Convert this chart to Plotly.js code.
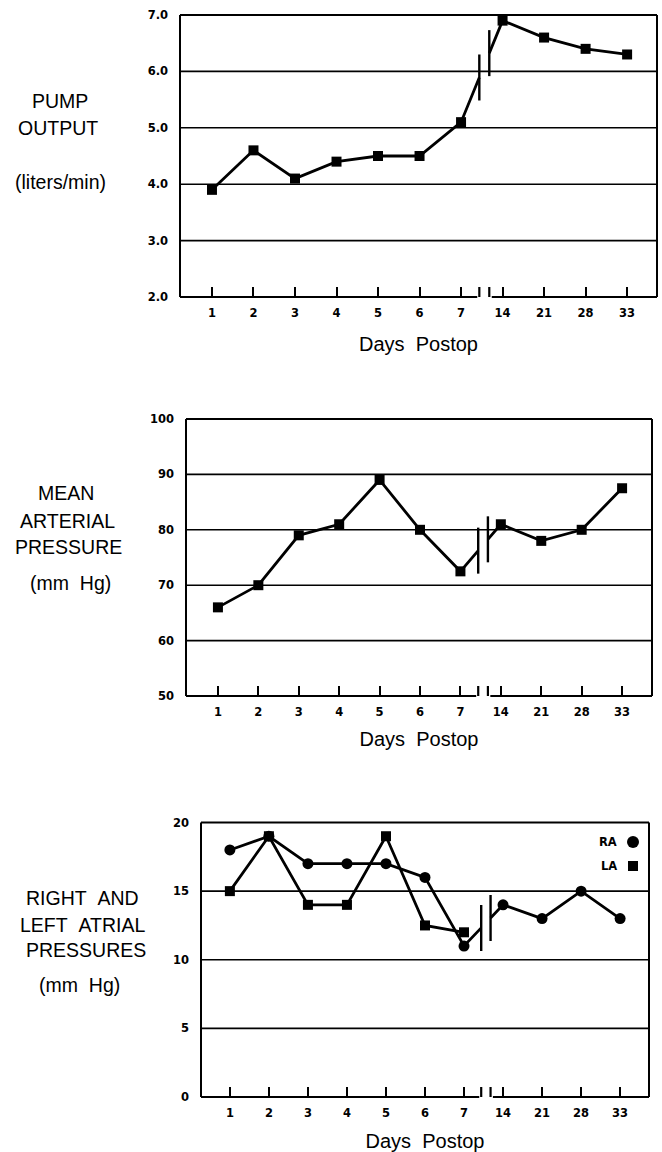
<!DOCTYPE html>
<html>
<head>
<meta charset="utf-8">
<script src="https://cdn.plot.ly/plotly-3.0.1.min.js"></script>
<style>html,body{margin:0;padding:0;background:#fff;}#chart{width:662px;height:1152px;}</style>
</head>
<body>
<div id="chart"></div>
<script>
// ---- data ----
const days = ['1','2','3','4','5','6','7','14','21','28','33'];
const pumpOutput = [3.9, 4.6, 4.1, 4.4, 4.5, 4.5, 5.1, 6.9, 6.6, 6.4, 6.3];
const meanArterial = [66, 70, 79, 81, 89, 80, 72.5, 81, 78, 80, 87.5];
const rightAtrial = [18, 19, 17, 17, 17, 16, 11, 14, 13, 15, 13];
const leftAtrial = [15, 19, 14, 14, 19, 12.5, 12, null, null, null, null];
const pumpTicks = [2, 3, 4, 5, 6, 7];
const arterialTicks = [50, 60, 70, 80, 90, 100];
const atrialTicks = [0, 5, 10, 15, 20];
const xTitle = 'Days&nbsp;&nbsp;Postop';

// ---- layout helpers ----
const W = 662, H = 1152;
const breakA = 6.44, breakB = 6.68; // axis break between day 7 and day 14
const tickFont = {family: 'DejaVu Sans', size: 11.5, color: '#000', weight: 'bold'};
const titleFont = {family: 'Liberation Sans, Arial, sans-serif', size: 19.5, color: '#000'};

const traces = [], shapes = [], annotations = [];
const layout = {
  width: W, height: H, margin: {l: 0, r: 0, t: 0, b: 0},
  paper_bgcolor: '#fff', plot_bgcolor: '#fff', showlegend: false,
  shapes: shapes, annotations: annotations
};

function px(x) { return x / W; }
function py(y) { return 1 - y / H; }

function panel(n, box, xr, yTicks, yFmt, series, titleLines, xStandoff) {
  const xa = 'xaxis' + (n === 1 ? '' : n), ya = 'yaxis' + (n === 1 ? '' : n);
  const xs = 'x' + (n === 1 ? '' : n), ys = 'y' + (n === 1 ? '' : n);
  const yMin = yTicks[0], yMax = yTicks[yTicks.length - 1];
  layout[xa] = {
    domain: [px(box.l), px(box.r)], range: xr, anchor: ys,
    tickmode: 'array', tickvals: days.map((d, i) => i), ticktext: days,
    ticks: 'inside', ticklen: 10, tickwidth: 2, tickcolor: '#000',
    showline: false, showgrid: false, zeroline: false,
    tickfont: tickFont, ticklabelstandoff: 7,
    title: {text: xTitle, font: {family: 'Liberation Sans, Arial, sans-serif', size: 20, color: '#000'}, standoff: xStandoff},
    fixedrange: true
  };
  layout[ya] = {
    domain: [py(box.b), py(box.t)], range: [yMin, yMax], anchor: xs,
    tickmode: 'array', tickvals: yTicks, ticktext: yTicks.map(v => yFmt(v)),
    ticks: '', showline: false, showgrid: false, zeroline: false,
    tickfont: tickFont, ticklabelstandoff: 11, fixedrange: true
  };
  const ln = {color: '#000', width: 2};
  // frame: left, right, top
  shapes.push({type: 'line', xref: xs + ' domain', yref: ys + ' domain', x0: 0, x1: 0, y0: 0, y1: 1, line: ln});
  shapes.push({type: 'line', xref: xs + ' domain', yref: ys + ' domain', x0: 1, x1: 1, y0: 0, y1: 1, line: ln});
  shapes.push({type: 'line', xref: xs + ' domain', yref: ys + ' domain', x0: 0, x1: 1, y0: 1, y1: 1, line: ln});
  // bottom axis with break
  shapes.push({type: 'line', xref: xs, yref: ys + ' domain', x0: xr[0], x1: breakA - 0.05, y0: 0, y1: 0, line: ln});
  shapes.push({type: 'line', xref: xs, yref: ys + ' domain', x0: breakB + 0.06, x1: xr[1], y0: 0, y1: 0, line: ln});
  [breakA, breakB].forEach(b => shapes.push({
    type: 'line', xref: xs, yref: ys, ysizemode: 'pixel', yanchor: yMin,
    x0: b, x1: b, y0: -12, y1: 10, line: {color: '#000', width: 2.2}
  }));
  // gridlines (interior ticks)
  yTicks.slice(1, -1).forEach(v => shapes.push({
    type: 'line', xref: xs + ' domain', yref: ys, x0: 0, x1: 1, y0: v, y1: v,
    line: {color: '#000', width: 1.6}
  }));
  // series
  series.forEach(s => {
    const v = s.values;
    const pre = {x: [], y: []}, post = {x: [], y: []};
    for (let i = 0; i <= 6; i++) { if (v[i] != null) { pre.x.push(i); pre.y.push(v[i]); } }
    if (v[6] != null && v[7] != null) {
      const yA = v[6] + (breakA - 6) * (v[7] - v[6]);
      const yB = v[6] + (breakB - 6) * (v[7] - v[6]);
      pre.x.push(breakA); pre.y.push(yA);
      post.x.push(breakB); post.y.push(yB);
      [[breakA, yA], [breakB, yB]].forEach(p => shapes.push({
        type: 'line', xref: xs, yref: ys, ysizemode: 'pixel', yanchor: p[1],
        x0: p[0], x1: p[0], y0: -23, y1: 23, line: {color: '#000', width: 2.4}
      }));
    }
    for (let i = 7; i < v.length; i++) { if (v[i] != null) { post.x.push(i); post.y.push(v[i]); } }
    [pre, post].forEach(seg => {
      if (seg.x.length) traces.push({x: seg.x, y: seg.y, xaxis: xs, yaxis: ys, mode: 'lines',
        line: {color: '#000', width: 2.8}, hoverinfo: 'skip', cliponaxis: false});
    });
    const mx = [], my = [];
    v.forEach((val, i) => { if (val != null) { mx.push(i); my.push(val); } });
    traces.push({x: mx, y: my, xaxis: xs, yaxis: ys, mode: 'markers', name: s.name,
      marker: {symbol: s.symbol, size: s.size, color: '#000'}, cliponaxis: false});
  });
  // left titles
  titleLines.forEach(t => annotations.push({
    xref: 'paper', yref: 'paper', x: px(t[1]), y: py(t[2]), text: t[0], showarrow: false,
    xanchor: 'center', yanchor: 'middle', font: titleFont
  }));
}

panel(1, {l: 180, r: 657, t: 15, b: 297}, [-0.77, 10.72], pumpTicks, v => v.toFixed(1),
  [{name: 'Pump output', values: pumpOutput, symbol: 'square', size: 10}],
  [['PUMP', 60, 101], ['OUTPUT', 58, 128], ['(liters/min)', 60, 182]], 18);

panel(2, {l: 186, r: 652, t: 419, b: 696}, [-0.79, 10.74], arterialTicks, v => String(v),
  [{name: 'Mean arterial pressure', values: meanArterial, symbol: 'square', size: 10}],
  [['MEAN', 66, 493], ['ARTERIAL', 67, 521], ['PRESSURE', 68, 547], ['(mm&nbsp;&nbsp;Hg)', 70, 583]], 14);

panel(3, {l: 201, r: 649, t: 822.5, b: 1097}, [-0.74, 10.74], atrialTicks, v => String(v),
  [{name: 'RA', values: rightAtrial, symbol: 'circle', size: 11},
   {name: 'LA', values: leftAtrial, symbol: 'square', size: 10}],
  [['RIGHT&nbsp;&nbsp;AND', 82, 898], ['LEFT&nbsp;&nbsp;ATRIAL', 82, 925], ['PRESSURES', 86, 950], ['(mm&nbsp;&nbsp;Hg)', 79, 985]], 19);

// legend (text then symbol)
const legendItems = [{name: 'RA', shape: 'circle', y: 842, s: 12}, {name: 'LA', shape: 'rect', y: 866, s: 10}];
legendItems.forEach(it => {
  annotations.push({xref: 'paper', yref: 'paper', x: px(619), y: py(it.y), text: it.name, showarrow: false,
    xanchor: 'right', yanchor: 'middle', font: tickFont});
  shapes.push({type: it.shape, xref: 'paper', yref: 'paper', xsizemode: 'pixel', ysizemode: 'pixel',
    xanchor: px(633), yanchor: py(it.y), x0: -it.s / 2, x1: it.s / 2, y0: -it.s / 2, y1: it.s / 2,
    fillcolor: '#000', line: {color: '#000', width: 0}});
});

Plotly.newPlot('chart', traces, layout, {staticPlot: true});
</script>
</body>
</html>
